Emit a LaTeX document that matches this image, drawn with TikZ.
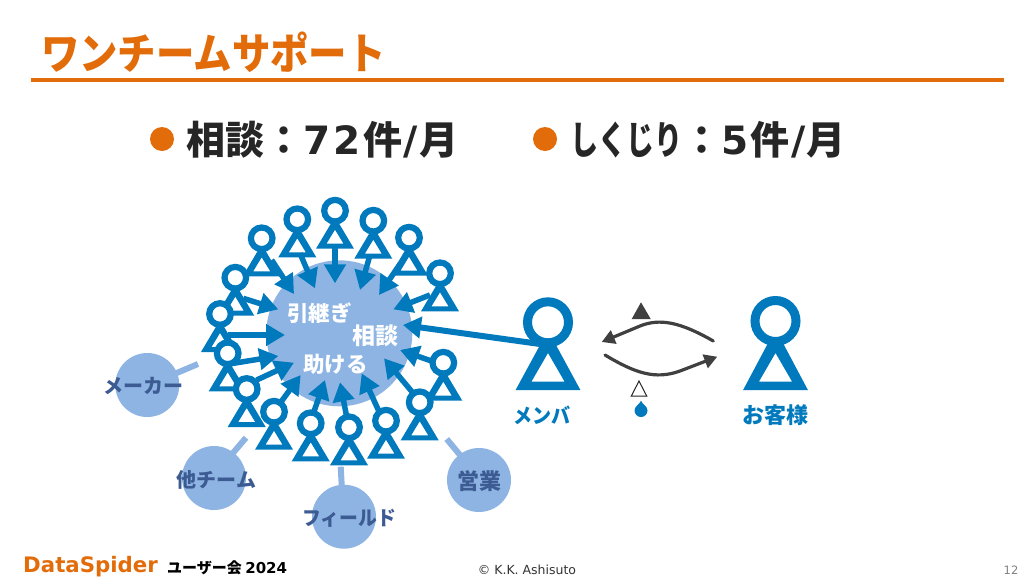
\documentclass[tikz,border=0pt]{standalone}
\usepackage{fontspec}
\setmainfont{Noto Sans CJK JP}
\newfontfamily\lat{DejaVu Sans}
\usetikzlibrary{arrows.meta}
\definecolor{pblue}{HTML}{007ABD}
\definecolor{lblue}{HTML}{8EB4E3}
\definecolor{orng}{HTML}{E36C0A}
\definecolor{dgray}{HTML}{404040}
\definecolor{sattxt}{HTML}{3B5B92}
\tikzset{x=1pt,y=-1pt,
  sat/.style={circle,fill=lblue,minimum size=64pt,inner sep=0pt},
  stub/.style={draw=lblue,line width=6pt},
  sattext/.style={font=\bfseries\fontsize{20}{20}\selectfont,text=sattxt,inner sep=0pt},
  intext/.style={font=\bfseries\fontsize{21.5}{21.5}\selectfont,text=white,inner sep=0pt},
  perstext/.style={font=\bfseries\fontsize{20.5}{20.5}\selectfont,text=pblue,inner sep=0pt},
  headline/.style={font=\bfseries\fontsize{39}{39}\selectfont,text=black!85,inner sep=0pt,anchor=west},
  bullet/.style={circle,fill=orng,minimum size=24pt,inner sep=0pt},
  inarrow/.style={draw=pblue,line width=5.5pt,-{Triangle[length=19pt,width=21pt]}},
  bigarrow/.style={draw=pblue,line width=6pt,-{Triangle[length=18pt,width=21pt]}},
  curvearrow/.style={draw=dgray,line width=3.2pt,line cap=round,-{Triangle[length=13pt,width=14pt]}}}
\newcommand{\smallperson}[2]{%
  \fill[pblue,even odd rule] (#1-19,#2+38) -- (#1,#2+6) -- (#1+19,#2+38) -- cycle
     (#1-8.5,#2+33) -- (#1,#2+19) -- (#1+8.5,#2+33) -- cycle;
  \filldraw[fill=white,draw=pblue,line width=6.2pt] (#1,#2) circle[radius=10.8];
}
\newcommand{\bigperson}[3]{%
  \fill[pblue,even odd rule] (#2-32.4,390) -- (#2,#3+8) -- (#2+32.4,390) -- cycle
     (#2-16.5,381.5) -- (#2,353) -- (#2+16.5,381.5) -- cycle;
  \filldraw[fill=white,draw=pblue,line width=9pt] (#2,#3) circle[radius=20.5];
  \coordinate (#1) at (#2,#3);
}
\begin{document}
\begin{tikzpicture}
\useasboundingbox (0,0) rectangle (1035,584);
\fill[white] (0,0) rectangle (1035,584);
% title
\node[anchor=west,inner sep=0pt,text=orng,font=\bfseries\fontsize{43}{43}\selectfont] (title) at (41,52) {\scalebox{0.893}[1]{ワンチームサポート}};
\coordinate (ruleA) at (31,80);
\coordinate (ruleB) at (1004,80);
\draw[orng,line width=4pt] (ruleA) -- (ruleB);
% headline
\node[bullet] (b1) at (162,139) {};
\node[headline] (h1) at (186,140) {相談：{\lat 7\hspace{3pt}2}\hspace{3pt}件\hspace{1.5pt}{\lat/}\hspace{1.5pt}月};
\node[bullet] (b2) at (545,139) {};
\node[headline] (h2) at (570,140) {\scalebox{0.72}[1]{しくじり}：{\lat 5}\hspace{2pt}件\hspace{1.5pt}{\lat/}\hspace{1.5pt}月};
% central disc
\node[circle,fill=lblue,minimum size=146pt,inner sep=0pt] (core) at (339.3,333.3) {};
% satellites
\foreach \n/\x/\y/\ax/\ay/\bx/\by in {maker/147.3/385/176/373.3/198/364,team/214/478/233/453/246/437.7,field/344/516.7/341.7/485/340.7/466.7,sales/479/480/460/455/446.7/439}{
  \node[sat] (\n) at (\x,\y) {};
  \coordinate (\n s) at (\bx,\by);
  \draw[stub] (\ax,\ay) -- (\n s);
}
\node[sattext] (t1) at (143.5,386) {メーカー};
\node[sattext] (t2) at (216.5,480) {他チーム};
\node[sattext] (t3) at (349,518) {\scalebox{0.94}[1]{フィールド}};
\node[sattext,font=\bfseries\fontsize{22}{22}\selectfont] (t4) at (479,481.5) {営業};
% arrows into disc
\foreach \i/\ax/\ay/\bx/\by in {
 1/300/190/345/295, 2/405/175/405/280, 3/510/195/480/300, 4/600/222/537/315,
 5/690/315/580/358, 6/215/210/282/312, 7/130/325/235/358, 8/85/435/255/435,
 9/100/520/235/498, 10/170/570/282/518, 11/240/640/302/555, 12/340/670/375/570,
 13/440/680/420/577, 14/535/660/485/550, 15/640/610/552/505, 16/700/515/600/480}{
  \coordinate (s\i) at ({200+\ax/3},{190+\ay/3});
  \coordinate (e\i) at ({200+\bx/3},{190+\by/3});
  \draw[inarrow] (s\i) -- (e\i);
}
% people around disc
\smallperson{443.3}{362.7}
\smallperson{297.3}{219.3}
\smallperson{335}{210.7}
\smallperson{373.3}{220.7}
\smallperson{409}{237.7}
\smallperson{440}{273.3}
\smallperson{261.7}{238.3}
\smallperson{235.3}{277.7}
\smallperson{220}{314}
\smallperson{227.7}{353.3}
\smallperson{246.7}{389}
\smallperson{274}{411.7}
\smallperson{310.7}{423.3}
\smallperson{349}{427.3}
\smallperson{386}{420.7}
\smallperson{419.7}{402.3}
% disc labels
\node[intext] (c1) at (319.5,312.7) {引継ぎ};
\node[intext,font=\bfseries\fontsize{23}{23}\selectfont] (c2) at (375.5,336) {相談};
\node[intext] (c3) at (335.5,364.3) {助ける};
% big people
\bigperson{member}{548}{322.3}
\bigperson{customer}{775.5}{321}
\node[perstext] (l1) at (541.7,415) {\scalebox{0.93}[1]{メンバ}};
\node[perstext,font=\bfseries\fontsize{22}{22}\selectfont] (l2) at (775.5,415) {お客様};
\coordinate (mstart) at (540,344);
\coordinate (mend) at (403,325);
\draw[bigarrow] (mstart) -- (mend);
% exchange
\coordinate (u1) at (713.3,341);
\coordinate (u2) at (601.7,342);
\coordinate (d1) at (605,355);
\coordinate (d2) at (717.3,356.7);
\draw[curvearrow] (u1) .. controls (680,322) and (660,318) .. (640,326) -- (u2);
\draw[curvearrow] (d1) .. controls (635,373) and (655,380) .. (680,371) -- (d2);
\fill[dgray] (631.7,319) -- (641,302.3) -- (650.7,319) -- cycle;
\draw[black!85,line width=1pt,fill=white] (631.2,396.2) -- (639,381) -- (646.8,396.2) -- cycle;
\fill[pblue] (641,400.7) .. controls (642,404) and (647.5,406) .. (647.5,410.5) arc[start angle=0,end angle=180,radius=6.5] .. controls (634.5,406) and (640,404) .. (641,400.7) -- cycle;
% footer
\node[anchor=west,inner sep=0pt,text=orng,font=\lat\bfseries\fontsize{21.3}{21.3}\selectfont] (f1) at (23,567) {DataSpider};
\node[anchor=west,inner sep=0pt,text=black,font=\bfseries\fontsize{15}{15}\selectfont] (f2) at (167,568) {ユーザー会 {\lat 2024}};
\node[inner sep=0pt,text=black!80,font=\lat\fontsize{12.5}{12.5}\selectfont] (f3) at (527,570) {© K.K. Ashisuto};
\node[inner sep=0pt,text=black!50,font=\lat\fontsize{11.5}{11.5}\selectfont] (f4) at (1011,570) {12};
\end{tikzpicture}
\end{document}
